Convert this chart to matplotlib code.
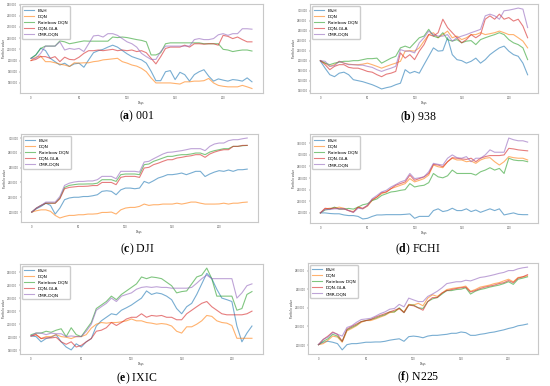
'''
Portfolio value of five trading agents on six market indices.
'''

import numpy as np
import matplotlib
matplotlib.use('Agg')
import matplotlib.pyplot as plt
from matplotlib.ticker import FuncFormatter

plt.rcParams['mathtext.fontset'] = 'custom'
plt.rcParams['mathtext.rm'] = 'Liberation Serif'
plt.rcParams['mathtext.bf'] = 'Liberation Serif:bold'

labels = ['B&H', 'DQN', 'Rainbow DQN', 'DQN-GLA', 'CMR-DQN']
colors = ['tab:blue', 'tab:orange', 'tab:green', 'tab:red', 'tab:purple']

#Days sampled every 5 steps
days_long = np.arange(0, 231, 5)
days_short = np.arange(0, 221, 5)

#(a) 001, values in thousands
bh_a = [202, 205, 211, 209, 202, 199, 196, 197.6, 194.7, 197, 197.6, 194, 200.6, 207, 208.8, 210,
        212, 213.7, 212, 209, 206, 203.5, 202, 200.6, 197.7, 190.4, 182, 182, 190, 191, 183, 189.5,
        187.4, 181.6, 187.4, 190, 191.8, 186, 181.6, 183.6, 182.5, 181.6, 183, 182.5, 181.6, 184.5, 181]
dqn_a = [200, 203, 204, 199, 199, 198, 196.8, 196, 194.7, 198, 197.7, 198, 198, 199, 199.5, 200.6,
         201, 201.5, 202, 199, 197.7, 196, 195, 193, 190, 184.5, 180, 180, 180, 180, 179.5, 179,
         181, 181, 181.6, 181.6, 182, 184, 180, 177.8, 177, 176.5, 176.5, 176.5, 177.8, 176.5, 175]
rainbow_a = [202, 205, 210.8, 212.9, 212.9, 212.9, 217.5, 216.7, 215, 215.8, 216.7, 217.5, 217.3, 217.3,
             217.3, 217.3, 217.3, 221, 220.5, 221, 220.5, 219.6, 218.7, 218, 216.7, 205, 205, 207, 215,
             215.8, 215.8, 215.8, 215.8, 215.8, 215.8, 215.8, 215, 215, 215, 215, 210, 209.4, 208,
             208.8, 209.4, 209.4, 208.5]
gla_a = [200, 201, 203.5, 203.5, 202, 203.5, 199, 203, 201, 200.6, 203, 206.4, 208.8, 208.8, 209.4,
         208.8, 209.4, 210, 208.8, 209.4, 208.8, 209.4, 208, 208.8, 207, 202, 197, 203.5, 210.8, 212,
         212, 212, 213.7, 212, 215, 215, 214.6, 215, 215, 213.7, 222.5, 221.6, 219.6, 221, 218.7,
         216.7, 216.7]
cmr_a = [202, 202, 206.4, 212.9, 212.9, 212.9, 216.7, 209.4, 210.8, 210, 210.8, 208, 215, 222, 222.5,
         221, 224, 224, 222.5, 219.6, 216.7, 215, 212, 206.4, 203.5, 201, 201, 208, 212.9, 212.9,
         212.9, 212.9, 212.9, 212.9, 218.7, 219.6, 218.7, 218.7, 219.6, 223, 224, 222.5, 224, 224,
         228.4, 228.4, 228]

#(b) 938
bh_b = [199, 185, 172, 168, 175, 177, 172, 162, 160, 158, 155, 152, 148, 143.5, 146, 148, 152, 155,
        182, 175, 178.5, 175, 192, 208.7, 225.5, 219, 220, 245.7, 212, 202, 200, 195, 198.7, 205,
        195, 202, 212, 219, 225.5, 229, 219, 212, 208.7, 195, 171.8]
dqn_b = [200, 195, 188.6, 192, 198.7, 195, 193, 192, 192, 193, 195, 192, 188.6, 185, 188.6, 192, 195,
         198.7, 219, 220, 219, 225.5, 239, 252, 255.8, 245.7, 252, 259, 245.7, 249, 242, 245.7, 252,
         252, 255.8, 252, 253.8, 255.8, 259, 255.8, 252, 252, 245.7, 239, 225.5]
rainbow_b = [200, 195, 192, 195, 197, 198.7, 198.7, 200, 200, 202, 204, 204, 205, 195, 200, 205, 208.7,
             225.5, 229, 225.5, 235.6, 245.7, 249, 262.5, 249, 245.7, 255.8, 242, 239, 242, 235.6, 239,
             240, 232, 242, 245.7, 249, 252, 255.8, 252, 242, 235.6, 232, 225.5, 202]
gla_b = [200, 192, 182, 188.6, 192, 192, 186.6, 185, 185, 182, 178.5, 177, 172, 168, 173, 175, 178.5,
         215.5, 205, 212, 202, 219, 232, 252, 249, 255.8, 282.7, 266, 255.8, 245.7, 235.6, 242, 252,
         245.7, 252, 282.7, 289.4, 282.7, 292.8, 282.7, 286, 279, 282.7, 269, 245.7]
cmr_b = [200, 198.7, 188.6, 190, 198.7, 195, 192, 192, 191, 191, 188.6, 186.6, 182, 178.5, 182, 185,
         188.6, 222, 219, 219, 215.5, 235.6, 245.7, 259, 252, 249, 249, 252, 239, 245.7, 249, 252,
         255.8, 259, 262.5, 289.4, 292.8, 289.4, 282.7, 299.5, 300.8, 302.8, 305, 302.8, 266]

#(c) DJI
bh_c = [200, 204.5, 207.7, 212, 209, 197.3, 205.4, 216.7, 219, 220, 220, 221, 221, 222, 223.4, 228,
        228.8, 228, 223.4, 230, 232.4, 232.4, 231.5, 232.4, 241.4, 239, 242.3, 246, 248, 250.5, 250.5,
        251.4, 252.7, 250.5, 252.7, 255, 255, 248, 251.4, 254, 255.9, 255, 256.8, 255, 257.2, 257.2, 258]
dqn_c = [200, 201.8, 203, 203, 201, 195.5, 192, 194, 195.5, 195.5, 196.4, 196.4, 197.3, 197.3, 197.8,
         199.5, 199.5, 200, 197.3, 203, 205.4, 206.3, 206.3, 207.7, 210.8, 209, 209.9, 209.9, 210.8,
         210.8, 210.8, 212, 210.8, 212, 213.5, 213.5, 212, 210.8, 210.8, 210.8, 211, 212, 210.8, 212,
         212, 213, 213.5]
rainbow_c = [200, 205.4, 209, 212, 212, 212, 219, 233.3, 236, 237, 237.8, 237.8, 238, 238, 239, 243.7,
             243.7, 243.7, 241.4, 250.5, 251.4, 251.4, 251.4, 250.5, 264, 264.9, 268.5, 270.7, 273,
             275.2, 275.2, 276.6, 277.5, 277.5, 278.4, 279.7, 279.7, 277.5, 281, 282.9, 284.2, 285.6,
             285.6, 288.7, 288.7, 289.6, 290]
gla_c = [200, 205.4, 209, 212, 212, 212, 218, 231.5, 233.3, 234, 234.7, 234.7, 235, 235.8, 235.8, 240,
         240, 240, 237, 246.8, 248.2, 248.2, 248.2, 246.8, 259.5, 260.4, 264, 266, 268.5, 270.7, 270.7,
         273, 273.9, 275.2, 276, 277.5, 277.5, 273.9, 278.4, 281, 282.9, 284.2, 284.2, 288.7, 288.7,
         290, 290]
cmr_c = [200, 205.4, 209, 213.5, 213.5, 213.5, 221, 236, 239, 240.5, 241.4, 241.4, 242, 242, 243.7,
         248.2, 248.2, 248.2, 245, 255, 255, 255, 255, 254, 267.6, 268.5, 272, 275.2, 278.4, 280.6, 281,
         282, 282.9, 284.2, 285.6, 285.6, 285.6, 282.9, 288.7, 291.9, 293.2, 293.2, 296.4, 297.7,
         297.7, 299, 300]

#(d) FCHI
bh_d = [200, 200, 199, 198.5, 198.5, 196.5, 195.4, 195.4, 194, 189.6, 190.7, 194, 196.5, 196.5, 197,
        197, 197, 197, 197.5, 198.3, 190.7, 194, 194, 194, 204, 207, 202.3, 204, 208, 204, 204, 207,
        202.3, 205, 201, 204, 207, 204, 207, 196.5, 198.3, 200, 197.5, 197, 197]
dqn_d = [200, 207, 208, 208, 209.9, 208, 204, 202.3, 209.9, 207, 211.6, 221.4, 227.2, 233, 236, 241.7,
         244.6, 247.5, 250.4, 259, 253.3, 256, 259, 265, 282.3, 279.4, 277.7, 288, 294, 291, 291, 288,
         289.3, 285.2, 291, 294, 295, 288, 282.3, 288, 296.8, 295, 294, 294, 291]
rainbow_d = [200, 205, 206.5, 209.9, 206.5, 206.5, 207.7, 206.5, 209.9, 214, 215.7, 221.4, 224, 230, 233,
             236, 237, 238.8, 240, 250.4, 244.6, 246.4, 247.5, 252, 267.8, 262, 260.3, 263.8, 273.6,
             267.8, 267.8, 267.8, 267.8, 265, 270.7, 273.6, 277.7, 273.6, 276.5, 267.8, 294, 291,
             289.9, 289.9, 288]
gla_d = [200, 208, 207, 208.5, 207, 207, 204, 201, 209.9, 208, 212.8, 223, 227.2, 234.8, 236, 241.7,
         247.5, 250.4, 253.3, 265, 256, 259, 262, 267.8, 283.5, 282.3, 279.4, 288, 295, 294, 292.8, 292,
         294, 288, 294, 296.8, 298.6, 298.6, 298.6, 299.7, 311, 310, 308.4, 307.5, 306.7]
cmr_d = [200, 205.8, 205.8, 207, 207, 207, 204, 201, 208, 207, 212.8, 224.3, 230, 236, 238.8, 244.6,
         248.7, 253.3, 256, 267.8, 259, 260.3, 262, 270.7, 285.2, 283.5, 282.3, 294, 299.7, 295, 294,
         296.8, 288, 294, 294, 299.7, 308.4, 304.3, 304.3, 304.3, 328.7, 325.8, 324, 324, 321.7]

#(e) IXIC
bh_e = [201, 200.5, 196.5, 199, 200, 202, 196.5, 192.5, 190.3, 195, 192.5, 196.5, 199, 208.6, 212.6,
        215.3, 218, 217.2, 220.7, 222.6, 224.7, 227.4, 230, 235.5, 232.8, 234, 233.3, 231.5, 228.8, 222,
        218, 223.4, 226, 232.8, 240.9, 249, 244.9, 236.8, 230, 228.8, 227.4, 208.6, 196.5, 203.2, 208.6]
dqn_e = [201, 202, 199, 200.5, 200.5, 202, 200.5, 200, 199, 200.5, 200.5, 202, 207, 210, 211.3, 210.8,
         211.3, 211.3, 211.8, 212.6, 214, 212.6, 212.6, 211.3, 210.8, 210, 210.5, 210, 208.6, 204.6,
         203.2, 208, 208, 210, 212.6, 216.7, 216, 212.6, 211.3, 210.8, 209, 199.2, 199.2, 199.2, 199.2]
rainbow_e = [201.9, 203.2, 203.2, 204.6, 203.8, 205.4, 206.5, 200.5, 207.3, 202, 200.5, 206, 211.3, 222,
             224.7, 227.4, 231.5, 228.8, 232.8, 235.5, 238.2, 240.9, 246.2, 244.9, 246.2, 245.7, 244.9,
             242.2, 239.5, 234, 235, 235.5, 240.9, 246.2, 247.6, 253, 244.9, 231.5, 231.5, 231.5, 231.5,
             220.7, 222, 232.8, 235]
gla_e = [201, 202, 199, 199.5, 199.5, 200, 196.5, 194.6, 196.5, 192.5, 193.8, 196.5, 199, 204.6, 205.4,
         207.3, 211.3, 209, 211.3, 214, 215.3, 215.3, 218, 215.3, 216.7, 216.2, 216.7, 215.3, 215.3,
         213.4, 213.4, 218, 220.7, 223.4, 226, 227.4, 223.4, 220.7, 218, 217.2, 217.2, 217.2, 217.2,
         218, 220]
cmr_e = [201, 203.2, 203.2, 202, 203.2, 202.7, 202.7, 200.5, 201, 200.5, 200.5, 204.6, 210, 220.7,
         223.4, 226, 230, 227.4, 231.5, 232.8, 234, 236.8, 238.2, 238.7, 238.2, 238.7, 238.2, 238.2,
         237.6, 237.6, 237.6, 237.6, 238.2, 241.4, 244.9, 247.6, 244.9, 244.9, 244.9, 244.9, 244.9, 230,
         234, 239.5, 240.9]

#(f) N225
bh_f = [200.4, 203, 204, 203, 201.5, 194.8, 200.4, 201.5, 201.5, 202.2, 203, 203, 203.3, 203.3, 204,
        205.2, 206, 206.7, 204, 209, 209.6, 209, 207.8, 209.6, 210.4, 210.4, 211, 211.5, 212.6, 212.6,
        214, 213.3, 210.4, 210.4, 211.5, 212.2, 213.3, 214, 215.2, 216.3, 217.8, 218.9, 220.7, 221.5,
        222.6]
dqn_f = [200.4, 201.5, 205.2, 209.6, 208.5, 203, 215.2, 217.8, 220.7, 224.4, 226.3, 226.3, 228, 230,
         231.9, 234.8, 235.6, 239.3, 235.6, 243.7, 243, 244.8, 242.2, 250.4, 254, 252.2, 255.9, 259.6,
         260.7, 261.5, 262.2, 263.3, 257.8, 259.6, 262.2, 263.3, 264.4, 266, 267, 268.9, 270.7, 268,
         272.6, 273.3, 274.4]
rainbow_f = [200.4, 204, 206.7, 211.5, 209.6, 204, 216.3, 218.9, 221.5, 225.2, 226.3, 227.4, 228.9, 231,
             232.6, 235.6, 235.6, 240, 234.8, 243, 243, 240, 239.3, 246.7, 249.6, 251, 254.8, 258.5,
             258.5, 259.6, 260, 261.5, 254.8, 257.8, 259.6, 260.7, 262.2, 263.3, 264.4, 266, 268, 265.2,
             270.7, 271.9, 273.3]
gla_f = [200.4, 206, 209.6, 214, 211.5, 204, 217, 220, 222.6, 225.2, 226.3, 227.4, 230, 231.9, 233.7,
         235.6, 237.4, 239.3, 234.8, 243, 242.2, 240, 237.4, 246.7, 251, 251, 255.9, 258.5, 259.6,
         260.7, 261.5, 262.2, 257, 258.5, 260.7, 262.2, 263.3, 264.4, 266, 267, 269.3, 267, 271.9,
         273.3, 275.6]
cmr_f = [200.4, 206, 208.5, 213.3, 211.5, 209.6, 218.9, 220.7, 224.4, 227.4, 228, 228.7, 231, 233.7,
         235.6, 238.5, 239.3, 243.7, 241, 250.4, 248.5, 246.7, 246.7, 252.2, 254.8, 257.8, 261.5, 266,
         267, 268, 268, 269.6, 268.9, 270.7, 272.6, 273.3, 274.4, 275.6, 277, 278, 280, 280, 281.9, 283,
         283.7]

#Panel letter, caption, days, series, axes box in pixels (left, top, right, bottom), caption y
panels = [
    ('a', '001', days_long, [bh_a, dqn_a, rainbow_a, gla_a, cmr_a], (20, 4, 263, 93), 116),
    ('b', '938', days_short, [bh_b, dqn_b, rainbow_b, gla_b, cmr_b], (310, 4, 538, 93), 117),
    ('c', 'DJI', days_long, [bh_c, dqn_c, rainbow_c, gla_c, cmr_c], (21, 134, 258, 222), 249),
    ('d', 'FCHI', days_short, [bh_d, dqn_d, rainbow_d, gla_d, cmr_d], (310, 134, 538, 223), 249),
    ('e', 'IXIC', days_short, [bh_e, dqn_e, rainbow_e, gla_e, cmr_e], (20, 264, 263, 354), 378),
    ('f', 'N225', days_short, [bh_f, dqn_f, rainbow_f, gla_f, cmr_f], (308, 263, 538, 354), 377),
]

W, H = 550, 386
fig = plt.figure(figsize=(W / 100, H / 100), dpi=100)

money = FuncFormatter(lambda v, pos: f'{v:,.0f}')

for letter, name, days, series, (l, t, r, b), cap_y in panels:
    ax = fig.add_axes([l / W, 1 - b / H, (r - l) / W, (b - t) / H])
    for values, label, color in zip(series, labels, colors):
        ax.plot(days, np.array(values) * 1000, color=color, alpha=0.6, lw=0.8, label=label)
    if letter == 'a':
        ax.set_ylim(171000, 250500)
    ax.yaxis.set_major_formatter(money)
    ax.set_xticks([0, 50, 100, 150, 200])
    ax.tick_params(labelsize=1.8, length=1, width=0.3, pad=1, colors='#555555')
    ax.set_xlabel('Days', fontsize=1.9, labelpad=1, color='#333333')
    ax.set_ylabel('Portfolio value', fontsize=1.9, labelpad=1.2, color='#333333')
    for spine in ax.spines.values():
        spine.set_color('#c8c8c8')
        spine.set_linewidth(0.8)
    ax.legend(loc='upper left', fontsize=3.2, handlelength=2.2, borderpad=0.5,
              labelspacing=0.45, edgecolor='#cccccc', framealpha=1, fancybox=True)
    cx = 137 if l < 200 else 418
    fig.text(cx / W, 1 - cap_y / H, r'($\mathbf{' + letter + r'}$) ' + name,
             ha='center', va='center', fontsize=8.5, family='Liberation Serif')

plt.savefig('out.png', dpi=100)
plt.close()
